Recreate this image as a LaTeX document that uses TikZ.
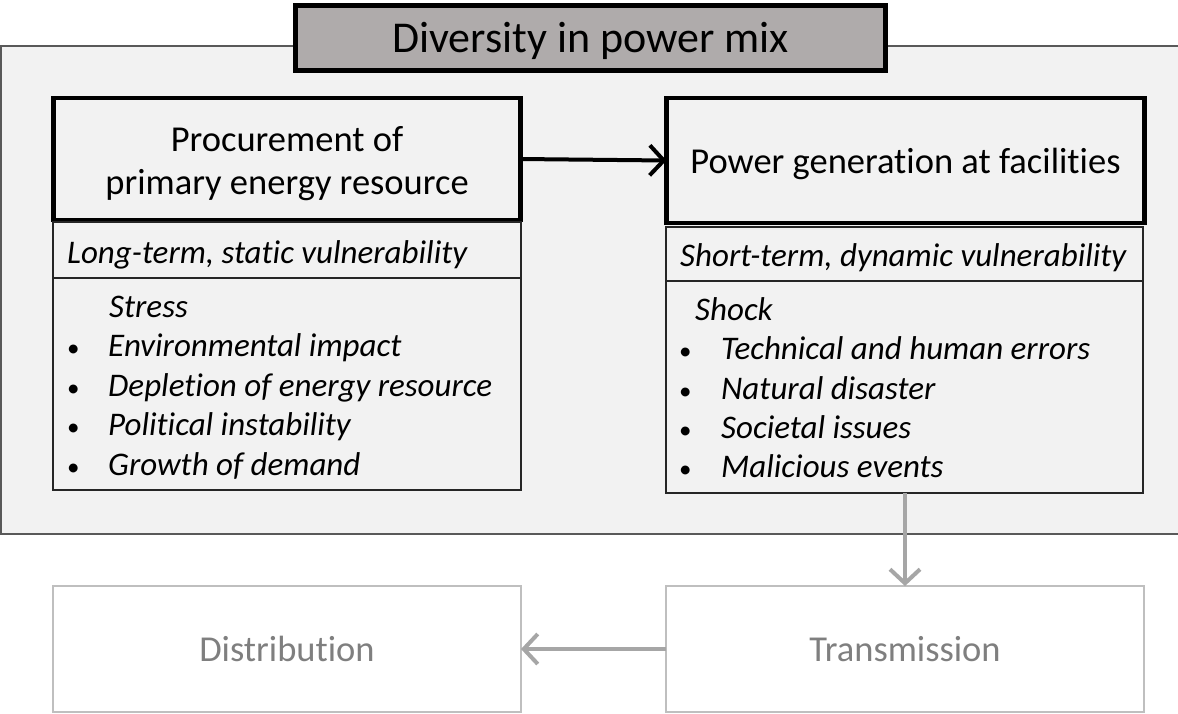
\documentclass[tikz,border=0pt]{standalone}
\usepackage{fontspec}
\setmainfont{Carlito}[Ligatures={NoCommon}]
\usetikzlibrary{arrows.meta}
\definecolor{panelfill}{HTML}{F2F2F2}
\definecolor{panelline}{HTML}{595959}
\definecolor{titlefill}{HTML}{AFABAB}
\definecolor{faded}{HTML}{A6A6A6}
\definecolor{fadedline}{HTML}{BFBFBF}
\definecolor{fadedtext}{HTML}{7F7F7F}
\tikzset{
  panel/.style={fill=panelfill, draw=panelline, line width=1.2pt},
  titlebox/.style={draw=black, fill=titlefill, line width=5pt, inner sep=0pt, outer sep=0pt},
  titletext/.style={inner sep=0pt, font=\fontsize{44}{50}\selectfont},
  stagebox/.style={draw=black, line width=4.5pt, inner sep=0pt, outer sep=0pt},
  stagetext/.style={inner sep=0pt, align=center, font=\fontsize{36.5}{43}\selectfont},
  infobox/.style={draw=black!85, line width=1.6pt, inner sep=0pt, outer sep=0pt},
  headtext/.style={anchor=base west, inner sep=0pt, font=\fontsize{33}{38}\selectfont\itshape},
  itemtext/.style={anchor=base west, inner sep=0pt, font=\fontsize{33}{38}\selectfont\itshape},
  bullet/.style={anchor=base west, inner sep=0pt, font=\fontsize{25}{28}\selectfont},
  fadedbox/.style={draw=fadedline, line width=1.6pt, inner sep=0pt, outer sep=0pt,
    text=fadedtext, font=\fontsize{36.5}{43}\selectfont},
  mainarrow/.style={-{Straight Barb[length=14pt,width=30pt,line width=4pt]}, line width=4pt},
  fadedarrow/.style={draw=faded, -{Straight Barb[length=14pt,width=30pt,line width=4pt]}, line width=4pt,
    color=faded}
}
\begin{document}
\begin{tikzpicture}[x=1pt,y=-1pt]
\useasboundingbox (0,0) rectangle (1178,713);

% background panel
\path[panel] (1,46) rectangle (1182,534);

% title
\node[titlebox, anchor=north west, minimum width=590pt, minimum height=65pt] (title) at (295.5,5.5) {};
\node[titletext] (titlelabel) at ([yshift=-3pt]title.center) {Diversity in power mix};

% stage boxes
\node[stagebox, anchor=north west, minimum width=467pt, minimum height=122pt] (proc) at (53.5,98) {};
\node[stagetext] (proclabel) at ([yshift=-5pt]proc.center) {Procurement of\\primary energy resource};
\node[stagebox, anchor=north west, minimum width=478pt, minimum height=125pt] (gen) at (666.5,98) {};
\node[stagetext] (genlabel) at ([yshift=-3pt]gen.center) {Power generation at facilities};

% vulnerability boxes
\node[infobox, anchor=north west, minimum width=468pt, minimum height=268pt] (procinfo) at (53,222) {};
\node[infobox, anchor=north west, minimum width=477pt, minimum height=266pt] (geninfo) at (666,227) {};
\draw[infobox] (procinfo.west |- 0,278) -- (procinfo.east |- 0,278);
\draw[infobox] (geninfo.west |- 0,281) -- (geninfo.east |- 0,281);

% left list
\node[headtext] (lhead) at (67,263) {Long-term, static vulnerability};
\node[itemtext] (stress) at (109,317) {Stress};
\foreach \y/\t [count=\i] in {356/Environmental impact, 396/Depletion of energy resource, 435/Political instability, 475/Growth of demand}{
  \node[bullet] (lb\i) at (67,\y) {•};
  \node[itemtext] (li\i) at (108,\y) {\t};
}

% right list
\node[headtext] (rhead) at (680,266) {Short-term, dynamic vulnerability};
\node[itemtext] (shock) at (695,320) {Shock};
\foreach \y/\t [count=\i] in {359/Technical and human errors, 399/Natural disaster, 438/Societal issues, 477/Malicious events}{
  \node[bullet] (rb\i) at (679,\y) {•};
  \node[itemtext] (ri\i) at (721,\y) {\t};
}

% downstream stages
\node[fadedbox, anchor=north west, minimum width=468pt, minimum height=126pt] (dist) at (53,586) {Distribution};
\node[fadedbox, anchor=north west, minimum width=478pt, minimum height=126pt] (trans) at (666,586) {Transmission};

% connectors
\draw[mainarrow] (proc.east) -- (gen.west);
\coordinate (genout) at (905,493);
\draw[fadedarrow] (genout) -- (genout |- trans.north);
\draw[fadedarrow] (trans.west) -- (dist.east);
\end{tikzpicture}
\end{document}
